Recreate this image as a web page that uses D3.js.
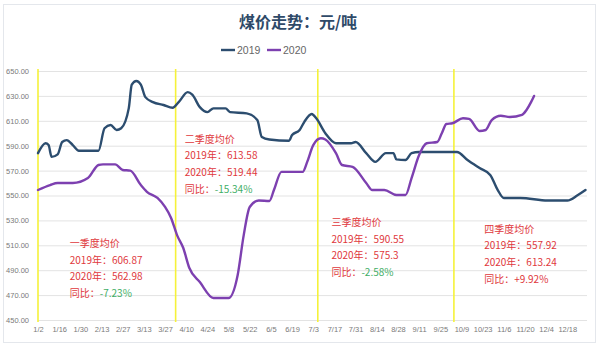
<!DOCTYPE html>
<html>
<head>
<meta charset="utf-8">
<script src="https://cdn.jsdelivr.net/npm/d3@7"></script>
<style>
  html, body { margin: 0; padding: 0; background: #ffffff; }
  svg { display: block; font-family: "Noto Sans CJK SC", "Noto Sans", sans-serif; }
</style>
</head>
<body>
<svg id="chart" width="600" height="347"></svg>
<script>
// Daily coal price samples (month-day within the year), 元/吨
const dates2019 = ["01-02","01-07","01-09","01-11","01-15","01-18","01-21","01-25","01-29","02-11","02-15","02-19","02-23","02-26","03-03","03-05","03-08","03-11","03-14","03-19","03-26","04-01","04-05","04-11","04-14","04-19","04-24","04-28","05-06","05-09","05-20","05-27","05-30","06-04","06-17","06-19","06-24","06-27","07-02","07-05","07-11","07-18","07-28","07-31","08-07","08-13","08-20","08-25","08-27","09-02","09-06","09-11","10-06","10-13","10-21","10-28","11-02","11-06","11-17","12-05","12-18","12-25","12-30"];
const values2019 = [584,592,590.5,581,583,593,594.5,590.5,586,586,604,606.6,602.6,604,620,639,642,639,629,625,622.7,620.5,625,633,631,621,617,620,620,617,616,610.6,597,595,594,598.6,602.6,609,615.5,612,600,592,592,593,584,577,584,584,579,578.5,584,585,585,578.5,572,566.5,554.4,548,548,546,546,550.4,554.4];

const dates2020 = ["01-02","01-10","01-15","01-25","02-04","02-11","02-14","02-22","02-27","03-04","03-11","03-15","03-22","03-27","03-31","04-04","04-08","04-12","04-19","04-28","05-08","05-14","05-18","05-22","05-28","06-04","06-07","06-12","06-26","06-29","07-03","07-08","07-11","07-18","07-22","07-29","08-07","08-11","08-19","08-27","09-02","09-06","09-11","09-16","09-23","09-26","09-29","10-03","10-10","10-14","10-21","10-25","10-29","11-04","11-10","11-18","11-21","11-24","11-26"];
const values2020 = [554.4,558.4,560,560,564,574.5,575,575,570.5,570,558.4,553,548,540.8,532,518,508,492,480.5,467.7,467.7,486,518,540.8,546,545.6,554.4,569,569,577,590.5,596,595,584,574.5,573,560,554.4,554.4,550.4,550.4,564,582.5,592,593,600,607.4,608,612,611.5,601.8,602.6,610.6,614,613,614.7,618.7,625,630];

const seriesNames = ["2019", "2020"];
const yTicks = [450,470,490,510,530,550,570,590,610,630,650];
const xTickLabels = ["1/2","1/16","1/30","2/13","2/27","3/13","3/27","4/10","4/24","5/8","5/22","6/5","6/19","7/3","7/17","7/31","8/14","8/28","9/11","9/25","10/9","10/23","11/6","11/20","12/4","12/18"];
const quarterDividers = ["01-02","04-03","07-06","10-04"];

// Quarterly average notes
const quarterNotes = [
  { date: "01-23", value: 508.6, lines: ["一季度均价","2019年：606.87","2020年：562.98"], yoy: "同比：-7.23%", up: false },
  { date: "04-09", value: 592.2, lines: ["二季度均价","2019年：613.58","2020年：519.44"], yoy: "同比：-15.34%", up: false },
  { date: "07-15", value: 525.5, lines: ["三季度均价","2019年：590.55","2020年：575.3"], yoy: "同比：-2.58%", up: false },
  { date: "10-24", value: 520, lines: ["四季度均价","2019年：557.92","2020年：613.24"], yoy: "同比：+9.92%", up: true }
];

const parse = s => new Date(2019, +s.slice(0,2) - 1, +s.slice(3,5));
const toPoints = (ds, vs) => ds.map((d, i) => ({ date: parse(d), value: vs[i] }));
const series = [
  { name: seriesNames[0], color: "#2c4d6f", points: toPoints(dates2019, values2019) },
  { name: seriesNames[1], color: "#7d40b0", points: toPoints(dates2020, values2020) }
];

const svg = d3.select("#chart");

// outer frame
svg.append("rect").attr("x", 3.5).attr("y", 4.5).attr("width", 592).attr("height", 338)
  .attr("fill", "#fff").attr("stroke", "#e4e7ec").attr("stroke-width", 1);

const x = d3.scaleTime().domain([parse("01-02"), parse("12-31")]).range([38, 587]);
const y = d3.scaleLinear().domain([450, 650]).range([320, 71]);

// grid lines
svg.append("g").selectAll("line").data(yTicks).join("line")
  .attr("x1", 38).attr("x2", 587)
  .attr("y1", d => y(d) + 0.5).attr("y2", d => y(d) + 0.5)
  .attr("stroke", "#e3e3e3").attr("stroke-width", 1);

// y axis labels
const yAxis = d3.axisLeft(y).tickValues(yTicks).tickFormat(d3.format(".2f")).tickSize(0).tickPadding(0);
svg.append("g").attr("transform", "translate(29,0)").call(yAxis)
  .call(g => g.select(".domain").remove())
  .call(g => g.selectAll("text").attr("fill", "#7a7a7a").attr("font-size", 7.5).attr("font-family", "Liberation Sans, Arial, sans-serif"));

// x axis labels every 14 days
const xTicks = xTickLabels.map(s => { const [m, d] = s.split("/"); return new Date(2019, +m - 1, +d); });
const xAxis = d3.axisBottom(x).tickValues(xTicks).tickFormat((d, i) => xTickLabels[i]).tickSize(0).tickPadding(0);
svg.append("g").attr("transform", "translate(0,327)").call(xAxis)
  .call(g => g.select(".domain").remove())
  .call(g => g.selectAll("text").attr("fill", "#7a7a7a").attr("font-size", 7.5).attr("font-family", "Liberation Sans, Arial, sans-serif"));

// quarter dividers
svg.append("g").selectAll("line").data(quarterDividers.map(parse)).join("line")
  .attr("x1", d => x(d)).attr("x2", d => x(d))
  .attr("y1", 69).attr("y2", 322)
  .attr("stroke", "#f5f23a").attr("stroke-width", 1.6);

// price lines
const line = d3.line().x(d => x(d.date)).y(d => y(d.value)).curve(d3.curveMonotoneX);
svg.append("g").selectAll("path").data(series).join("path")
  .attr("d", d => line(d.points))
  .attr("fill", "none")
  .attr("stroke", d => d.color)
  .attr("stroke-width", 2.4)
  .attr("stroke-linejoin", "round")
  .attr("stroke-linecap", "round");

// title
svg.append("text").attr("x", 298).attr("y", 28).attr("text-anchor", "middle")
  .attr("font-size", 16).attr("font-weight", 700).attr("fill", "#2f4a68")
  .attr("font-family", "Noto Sans CJK SC, sans-serif")
  .text("煤价走势：元/吨");

// legend
const legend = svg.append("g").selectAll("g").data(series).join("g")
  .attr("transform", (d, i) => `translate(${221 + i * 46},50)`);
legend.append("line").attr("x1", 0).attr("x2", 14).attr("y1", 0).attr("y2", 0)
  .attr("stroke", d => d.color).attr("stroke-width", 2.4);
legend.append("text").attr("x", 16).attr("y", 4).attr("font-size", 10.5).attr("fill", "#666")
  .attr("font-family", "Liberation Sans, Arial, sans-serif")
  .text(d => d.name);

// quarterly notes
const notes = svg.append("g").selectAll("g").data(quarterNotes).join("g")
  .attr("transform", d => `translate(${x(parse(d.date))},${y(d.value)})`)
  .attr("font-size", 10);
notes.each(function(d) {
  const g = d3.select(this);
  d.lines.forEach((t, i) => {
    g.append("text").attr("x", 0).attr("y", i * 16.5).attr("fill", "#e0383c").text(t);
  });
  const [label, val] = d.yoy.split("：");
  const t = g.append("text").attr("x", 0).attr("y", 3 * 16.5 + 0.5);
  t.append("tspan").attr("fill", "#e0383c").text(label + "：");
  t.append("tspan").attr("fill", d.up ? "#e0383c" : "#3fae66").text(val);
});
</script>
</body>
</html>
